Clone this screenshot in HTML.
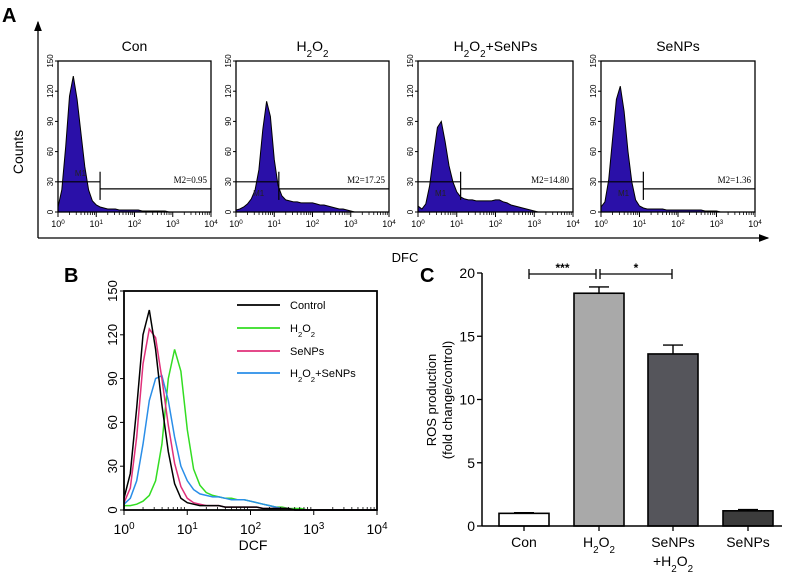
<!DOCTYPE html>
<html><head><meta charset="utf-8"><style>
body{margin:0;background:#fff}
svg{display:block;font-family:"Liberation Sans",Arial,sans-serif}
</style></head><body>
<svg id="fig" width="792" height="576" viewBox="0 0 792 576">
<defs><marker id="arr" markerWidth="8" markerHeight="8" refX="7" refY="4" orient="auto"><path d="M0,1 L8,4 L0,7 z" fill="#000"/></marker></defs>
<g>
<text x="2" y="22" font-size="20" font-weight="bold">A</text>
<line x1="38" y1="238" x2="38" y2="22" stroke="#000" stroke-width="1.3" marker-end="url(#arr)"/>
<line x1="38" y1="238" x2="768" y2="238" stroke="#000" stroke-width="1.3" marker-end="url(#arr)"/>
<text transform="translate(23,152) rotate(-90)" font-size="14" text-anchor="middle">Counts</text>
<text x="405" y="262" font-size="13" text-anchor="middle">DFC</text>
</g>
<g id="pa"></g>
<g id="pb">
<text x="64" y="282" font-size="20" font-weight="bold">B</text>
</g>
<g id="pc">
<text x="420" y="282" font-size="20" font-weight="bold">C</text>
</g>
</svg>
<script>
// Panel A / B histogram data: counts per 0.1-decade bin from 10^0 to 10^4
const aTitles = ["Con", "H2O2", "H2O2+SeNPs", "SeNPs"];
const aM2 = ["M2=0.95", "M2=17.25", "M2=14.80", "M2=1.36"];
const conCounts = [5,22,65,115,135,112,78,45,22,11,7,5,4,3,3,3,2,2,2,2,2,2,1,1,1,1,1,1,1,0,0,0,0,0,0,0,0,0,0,0,0];
const h2o2Counts = [2,3,5,8,13,22,42,82,110,95,52,26,16,12,11,10,10,9,9,9,9,8,7,7,6,5,4,3,3,2,1,0,0,0,0,0,0,0,0,0,0];
const mixCounts = [6,3,8,26,56,84,90,70,46,30,20,15,13,12,12,11,11,11,11,11,12,12,10,9,7,6,5,4,3,2,1,0,0,0,0,0,0,0,0,0,0];
const senpCounts = [5,10,32,72,112,125,100,60,30,12,6,4,3,3,3,3,3,2,2,2,2,2,2,2,2,2,2,1,1,1,1,0,0,0,0,0,0,0,0,0,0];
const yTicks = [0,30,60,90,120,150];
const xDecades = [0,1,2,3,4];
// Panel B
const bSeries = ["Control", "H2O2", "SeNPs", "H2O2+SeNPs"];
const bControl = [8,25,70,120,137,110,72,40,18,8,5,4,3,3,3,3,2,2,2,2,2,2,1,1,1,1,1,0,0,0,0,0,0,0,0,0,0,0,0,0,0];
const bH2O2 = [3,3,4,6,10,20,45,90,110,95,55,28,17,12,10,9,8,8,7,7,6,5,4,3,2,2,1,1,1,0,0,0,0,0,0,0,0,0,0,0,0];
const bSeNPs = [5,15,50,100,124,118,90,58,32,16,8,5,4,3,3,3,2,2,2,2,2,2,1,1,1,1,1,0,0,0,0,0,0,0,0,0,0,0,0,0,0];
const bMix = [4,8,20,45,75,90,92,75,50,30,20,14,11,10,9,9,8,7,7,7,6,5,4,3,2,1,1,0,0,0,0,0,0,0,0,0,0,0,0,0,0];
// Panel C
const cCats = ["Con", "H2O2", "SeNPs+H2O2", "SeNPs"];
const cVals = [1.0, 18.4, 13.6, 1.2];
const cErr = [0.05, 0.5, 0.7, 0.1];
const cTicks = [0,5,10,15,20];

const NS = "http://www.w3.org/2000/svg";
function mk(parent, tag, attrs, txt){const e=document.createElementNS(NS,tag);for(const k in attrs)e.setAttribute(k,attrs[k]);if(txt!==undefined)e.textContent=txt;parent.appendChild(e);return e;}
function sup(parent, x, y, base, exp, fs, anchor){
  const t=mk(parent,"text",{x:x,y:y,"font-size":fs,"text-anchor":anchor||"middle"});
  mk(t,"tspan",{},base);mk(t,"tspan",{"baseline-shift":"super","font-size":fs*0.7},exp);return t;}
function subText(parent,x,y,str,fs,anchor,weight){
  const t=mk(parent,"text",{x:x,y:y,"font-size":fs,"text-anchor":anchor||"middle"});
  if(weight)t.setAttribute("font-weight",weight);
  const parts=str.split(/(H2O2)/);
  parts.forEach(p=>{ if(p==="H2O2"){mk(t,"tspan",{},"H");mk(t,"tspan",{"baseline-shift":"sub","font-size":fs*0.7},"2");mk(t,"tspan",{},"O");mk(t,"tspan",{"baseline-shift":"sub","font-size":fs*0.7},"2");} else if(p) mk(t,"tspan",{},p);});
  return t;}
function logMinor(g,x,yb,len,dir){
  for(let d=0;d<4;d++)for(let k=2;k<10;k++){const xx=x(d+Math.log10(k));mk(g,"line",{x1:xx,x2:xx,y1:yb,y2:yb+dir*len,stroke:"#000","stroke-width":0.8});}
}

// ----- Panel A -----
const pa=document.getElementById("pa");
const boxes=[[58,211],[236,389],[418,573],[601,755]];
const aData=[conCounts,h2o2Counts,mixCounts,senpCounts];
const m1Ends=[1.1,1.12,1.1,1.1];
const yTop=61, yBot=212;
for(let i=0;i<4;i++){
  const g=mk(pa,"g",{});
  
  
  const [x0,x1]=boxes[i];
  const x=v=>x0+(x1-x0)*v/4;
  const y=v=>yBot-(yBot-yTop)*v/150;
  const t=subText(g,(x0+x1)/2,51,aTitles[i],14);
  
  
  let d="M"+x(0)+","+y(0);
  aData[i].forEach((c,j)=>{d+=" L"+x(j*0.1).toFixed(1)+","+y(c).toFixed(1);});
  d+=" L"+x(4)+","+y(0)+" Z";
  const p=mk(g,"path",{d:d,fill:"#2a10a8",stroke:"#000","stroke-width":1});
  
  
  mk(g,"rect",{x:x0,y:yTop,width:x1-x0,height:yBot-yTop,fill:"none",stroke:"#000","stroke-width":1.3});
  yTicks.forEach(v=>{mk(g,"line",{x1:x0-3,x2:x0,y1:y(v),y2:y(v),stroke:"#000"});
    const tl=mk(g,"text",{transform:`translate(${x0-5},${y(v)}) rotate(-90)`,"font-size":8,"text-anchor":"middle"},String(v));
    });
  xDecades.forEach(dd=>{mk(g,"line",{x1:x(dd),x2:x(dd),y1:yBot,y2:yBot+5,stroke:"#000"});
    const tl=sup(g,x(dd),227,"10",String(dd),9);
    });
  logMinor(g,x,yBot,3,1);
  const xm=x(m1Ends[i]);
  mk(g,"line",{x1:x0,x2:xm,y1:y(30),y2:y(30),stroke:"#000","stroke-width":1.2});
  mk(g,"line",{x1:xm,x2:xm,y1:y(40),y2:y(12),stroke:"#000","stroke-width":1.2});
  mk(g,"line",{x1:xm,x2:x1,y1:y(23),y2:y(23),stroke:"#000","stroke-width":1.2});
  mk(g,"text",{x:x0+(xm-x0)*0.4,y:y(i==0?36:16),"font-size":8,fill:"#222"},"M1");
  const m2=mk(g,"text",{x:x1-4,y:y(27)-2,"font-size":9,"text-anchor":"end","font-family":"Liberation Serif,serif"},aM2[i]);
  
}

// ----- Panel B -----
const pb=document.getElementById("pb");
{
  const x0=124,x1=377,yt=291,yb=510;
  const x=v=>x0+(x1-x0)*v/4;
  const y=v=>yb-(yb-yt)*v/150;
  const cols=["#000","#33dd22","#e0307a","#2a8ee8"];
  const data=[bControl,bH2O2,bSeNPs,bMix];
  [1,3,2,0].forEach(si=>{
    let d="";
    data[si].forEach((c,j)=>{d+=(j?" L":"M")+x(j*0.1).toFixed(1)+","+y(c).toFixed(1);});
    const p=mk(pb,"path",{d:d,fill:"none",stroke:cols[si],"stroke-width":1.5});
    
    
  });
  mk(pb,"rect",{x:x0,y:yt,width:x1-x0,height:yb-yt,fill:"none",stroke:"#000","stroke-width":1.8});
  yTicks.forEach(v=>{mk(pb,"line",{x1:x0-4,x2:x0,y1:y(v),y2:y(v),stroke:"#000"});
    const tl=mk(pb,"text",{transform:`translate(${x0-7},${y(v)}) rotate(-90)`,"font-size":13,"text-anchor":"middle"},String(v));
    });
  xDecades.forEach(dd=>{mk(pb,"line",{x1:x(dd),x2:x(dd),y1:yb,y2:yb+5,stroke:"#000"});
    const tl=sup(pb,x(dd),534,"10",String(dd),14);
    });
  logMinor(pb,x,yb,3,-1);
  const xt=mk(pb,"text",{x:253,y:550,"font-size":14,"text-anchor":"middle"},"DCF");
  
  const ly=[305,328,351,373];
  bSeries.forEach((s,i)=>{
    const lg=mk(pb,"g",{});
    
    
    mk(lg,"line",{x1:237,x2:280,y1:ly[i],y2:ly[i],stroke:cols[i],"stroke-width":1.8});
    subText(lg,290,ly[i]+4,s,11,"start");
  });
}

// ----- Panel C -----
const pc=document.getElementById("pc");
{
  const ax=482,y0=526,y20=273,xr=782;
  const y=v=>y0-(y0-y20)*v/20;
  const bx=[499,574,648,723], bw=50;
  const fills=["#fff","#a9a9a9","#55555b","#3c3c3c"];
  cVals.forEach((v,i)=>{
    const g=mk(pc,"g",{});
    
    
    const cx=bx[i]+bw/2;
    mk(g,"line",{x1:cx,x2:cx,y1:y(v),y2:y(v+cErr[i]),stroke:"#000","stroke-width":1.4});
    mk(g,"line",{x1:cx-10,x2:cx+10,y1:y(v+cErr[i]),y2:y(v+cErr[i]),stroke:"#000","stroke-width":1.4});
    mk(g,"rect",{x:bx[i],y:y(v),width:bw,height:y0-y(v),fill:fills[i],stroke:"#000","stroke-width":1.6});
  });
  mk(pc,"line",{x1:ax,x2:ax,y1:y20,y2:y0,stroke:"#000","stroke-width":1.5});
  mk(pc,"line",{x1:ax,x2:xr,y1:y0,y2:y0,stroke:"#000","stroke-width":1.5});
  cTicks.forEach(v=>{mk(pc,"line",{x1:ax-5,x2:ax,y1:y(v),y2:y(v),stroke:"#000","stroke-width":1.3});
    const tl=mk(pc,"text",{x:ax-7,y:y(v)+5,"font-size":14,"text-anchor":"end"},String(v));
    });
  bx.forEach((b,i)=>{const cx=b+bw/2;mk(pc,"line",{x1:cx,x2:cx,y1:y0,y2:y0+5,stroke:"#000","stroke-width":1.3});});
  const labs=[["Con"],["H2O2"],["SeNPs","+H2O2"],["SeNPs"]];
  labs.forEach((l,i)=>{l.forEach((s,k)=>{const t=subText(pc,bx[i]+bw/2,547+k*19,s,14);
    });});
  const yt=mk(pc,"text",{transform:"translate(0,400) rotate(-90)","font-size":13,"text-anchor":"middle"});
  mk(yt,"tspan",{x:0,y:436},"ROS production");
  mk(yt,"tspan",{x:0,y:452},"(fold change/control)");
  
  const sy=274;
  [[529,596,"***"],[600,672,"*"]].forEach(([a,b,s])=>{
    const g=mk(pc,"g",{});
    
    
    mk(g,"line",{x1:a,x2:b,y1:sy,y2:sy,stroke:"#000","stroke-width":1.3});
    mk(g,"line",{x1:a,x2:a,y1:sy-5,y2:sy+5,stroke:"#000","stroke-width":1.3});
    mk(g,"line",{x1:b,x2:b,y1:sy-5,y2:sy+5,stroke:"#000","stroke-width":1.3});
    mk(g,"text",{x:(a+b)/2,y:sy-2,"font-size":12,"text-anchor":"middle","font-weight":"bold"},s);
  });
}
</script>
</body></html>
